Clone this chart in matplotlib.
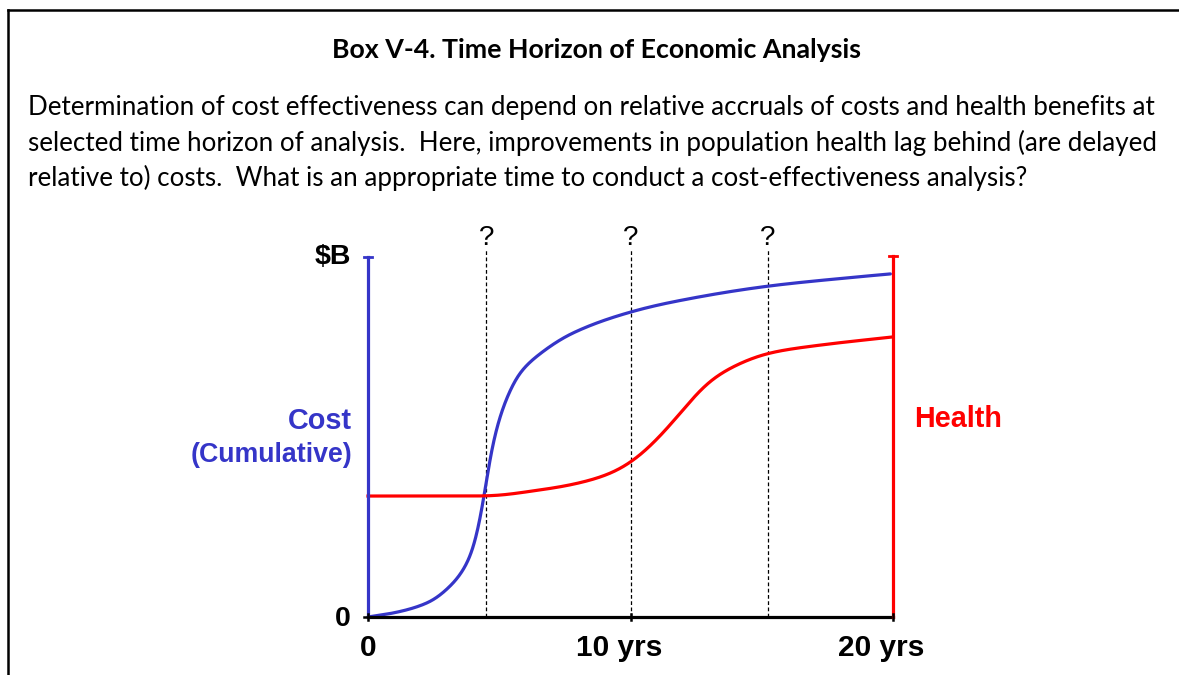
import numpy as np
import matplotlib
matplotlib.use("Agg")
import matplotlib.pyplot as plt
from matplotlib.lines import Line2D

# ---------------- data ----------------
cost_years = [0, 0.95, 2.25, 3.24, 3.89, 4.19, 4.42, 4.65, 4.91, 5.30, 5.79, 6.55, 7.81, 10.0, 11.6, 15.24, 18.25, 19.9]
cost_vals  = [0, 0.011, 0.039, 0.094, 0.167, 0.242, 0.333, 0.444, 0.528, 0.611, 0.678, 0.731, 0.789, 0.847, 0.875, 0.919, 0.942, 0.953]
health_years = [0, 4.5, 6.55, 7.3, 9.1, 10.0, 11.0, 12.0, 12.9, 13.8, 15.24, 17.3, 20.0]
health_vals  = [0.336, 0.336, 0.353, 0.361, 0.394, 0.428, 0.492, 0.575, 0.65, 0.692, 0.733, 0.756, 0.778]
horizons = [4.5, 10.0, 15.24]
xtick_pos = [0, 10, 20]
xtick_labels = ["0", "10 yrs", "20 yrs"]

title = "Box V-4. Time Horizon of Economic Analysis"
body = ["Determination of cost effectiveness can depend on relative accruals of costs and health benefits at",
        "selected time horizon of analysis.  Here, improvements in population health lag behind (are delayed",
        "relative to) costs.  What is an appropriate time to conduct a cost-effectiveness analysis?"]

BLUE = "#3535C8"
RED = "#FF0000"


def pchip(x, y, n=1000):
    x = np.asarray(x, float); y = np.asarray(y, float)
    h = np.diff(x); d = np.diff(y) / h
    m = np.zeros_like(y)
    for k in range(1, len(x) - 1):
        if d[k - 1] * d[k] > 0:
            w1 = 2 * h[k] + h[k - 1]; w2 = h[k] + 2 * h[k - 1]
            m[k] = (w1 + w2) / (w1 / d[k - 1] + w2 / d[k])
    m[0] = d[0]; m[-1] = d[-1]
    xs = np.linspace(x[0], x[-1], n)
    idx = np.clip(np.searchsorted(x, xs) - 1, 0, len(h) - 1)
    t = (xs - x[idx]) / h[idx]
    h00 = 2*t**3 - 3*t**2 + 1; h10 = t**3 - 2*t**2 + t
    h01 = -2*t**3 + 3*t**2; h11 = t**3 - t**2
    ys = h00*y[idx] + h10*h[idx]*m[idx] + h01*y[idx+1] + h11*h[idx]*m[idx+1]
    return xs, ys


def smooth_curve(x, y, sigma=0.18):
    xs, ys = pchip(x, y)
    dx = xs[1] - xs[0]
    s = sigma / dx
    r = int(4 * s)
    k = np.exp(-0.5 * (np.arange(-r, r + 1) / s) ** 2)
    k /= k.sum()
    sl0 = (ys[1] - ys[0]); sl1 = (ys[-1] - ys[-2])
    left = ys[0] - sl0 * np.arange(r, 0, -1)
    right = ys[-1] + sl1 * np.arange(1, r + 1)
    yp = np.concatenate([left, ys, right])
    yc = np.convolve(yp, k, mode="same")[r:-r]
    return xs, yc


W, H = 1179, 675
fig = plt.figure(figsize=(W/100, H/100), dpi=100)

# box border (left and top)
fig.add_artist(Line2D([8/W, 8/W], [0, 1 - 10/H], color="black", lw=1.8))
fig.add_artist(Line2D([8/W, 1], [1 - 10/H, 1 - 10/H], color="black", lw=1.8))

# title and body text
fig.text(597/W, 1 - 50/H, title, ha="center", va="center", fontsize=19.3,
         fontweight="bold", family="Lato")
body_texts = []
for i, line in enumerate(body):
    t = fig.text(28/W, 1 - (108 + 35*i)/H, line, ha="left", va="center",
                 fontsize=17, family="Lato")
    body_texts.append(t)

fig.canvas.draw()
r = fig.canvas.get_renderer()
w0 = body_texts[0].get_window_extent(r).width
scale = 1122 / w0
for t in body_texts:
    t.set_fontsize(17 * scale)

# chart axes
x0, x1 = 368, 893
y0, y1 = 617, 257
ax = fig.add_axes([x0/W, (H - y0)/H, (x1 - x0)/W, (y0 - y1)/H])
ax.set_xlim(0, 20)
ax.set_ylim(0, 1)
ax.axis("off")

cf = "Liberation Sans"

for h in horizons:
    ax.plot([h, h], [0, 1.02], color="black", lw=0.9, ls=(0, (3, 2)), clip_on=False)
    ax.text(h, 1.053, "?", ha="center", va="center", fontsize=20, family=cf, clip_on=False)

cx, cy = smooth_curve(cost_years, cost_vals, sigma=0.15)
ax.plot(cx, cy, color=BLUE, lw=2.3, clip_on=False, solid_capstyle="round")
hx, hy = smooth_curve(health_years, health_vals, sigma=0.45)
ax.plot(hx, hy, color=RED, lw=2.3, clip_on=False)

ax.plot([0, 20], [0, 0], color="black", lw=2.3, clip_on=False, zorder=3)
ax.plot([0, 0], [0, 1.0], color=BLUE, lw=2.3, clip_on=False, zorder=4)
ax.plot([-0.15, 0.15], [1.0, 1.0], color=BLUE, lw=2.0, clip_on=False)
ax.plot([20, 20], [0, 1.003], color=RED, lw=2.3, clip_on=False, zorder=4)
ax.plot([19.85, 20.15], [1.003, 1.003], color=RED, lw=2.0, clip_on=False)
for xt in xtick_pos:
    ax.plot([xt, xt], [-0.008, 0.008], color="black", lw=1.8, clip_on=False, zorder=5)
ax.plot([-0.15, 0.15], [0, 0], color="black", lw=1.8, clip_on=False, zorder=5)

ax.text(-0.65, 1.0, "$B", ha="right", va="center", fontsize=20.5, fontweight="bold",
        family=cf, clip_on=False)
ax.text(-0.65, -0.005, "0", ha="right", va="center", fontsize=20.5, fontweight="bold",
        family=cf, clip_on=False)
label_offsets = [0.0, -0.42, -0.45]
for xt, lab, off in zip(xtick_pos, xtick_labels, label_offsets):
    ax.text(xt + off, -0.086, lab, ha="center", va="center", fontsize=21.5, fontweight="bold",
            family=cf, clip_on=False)
ax.text(-0.6, 0.544, "Cost", ha="right", va="center", fontsize=20.8, fontweight="bold",
        family=cf, color=BLUE, clip_on=False)
ax.text(-0.6, 0.45, "(Cumulative)", ha="right", va="center", fontsize=19.3, fontweight="bold",
        family=cf, color=BLUE, clip_on=False)
ax.text(20.8, 0.549, "Health", ha="left", va="center", fontsize=20.7, fontweight="bold",
        family=cf, color=RED, clip_on=False)

fig.savefig("out.png", dpi=100)
